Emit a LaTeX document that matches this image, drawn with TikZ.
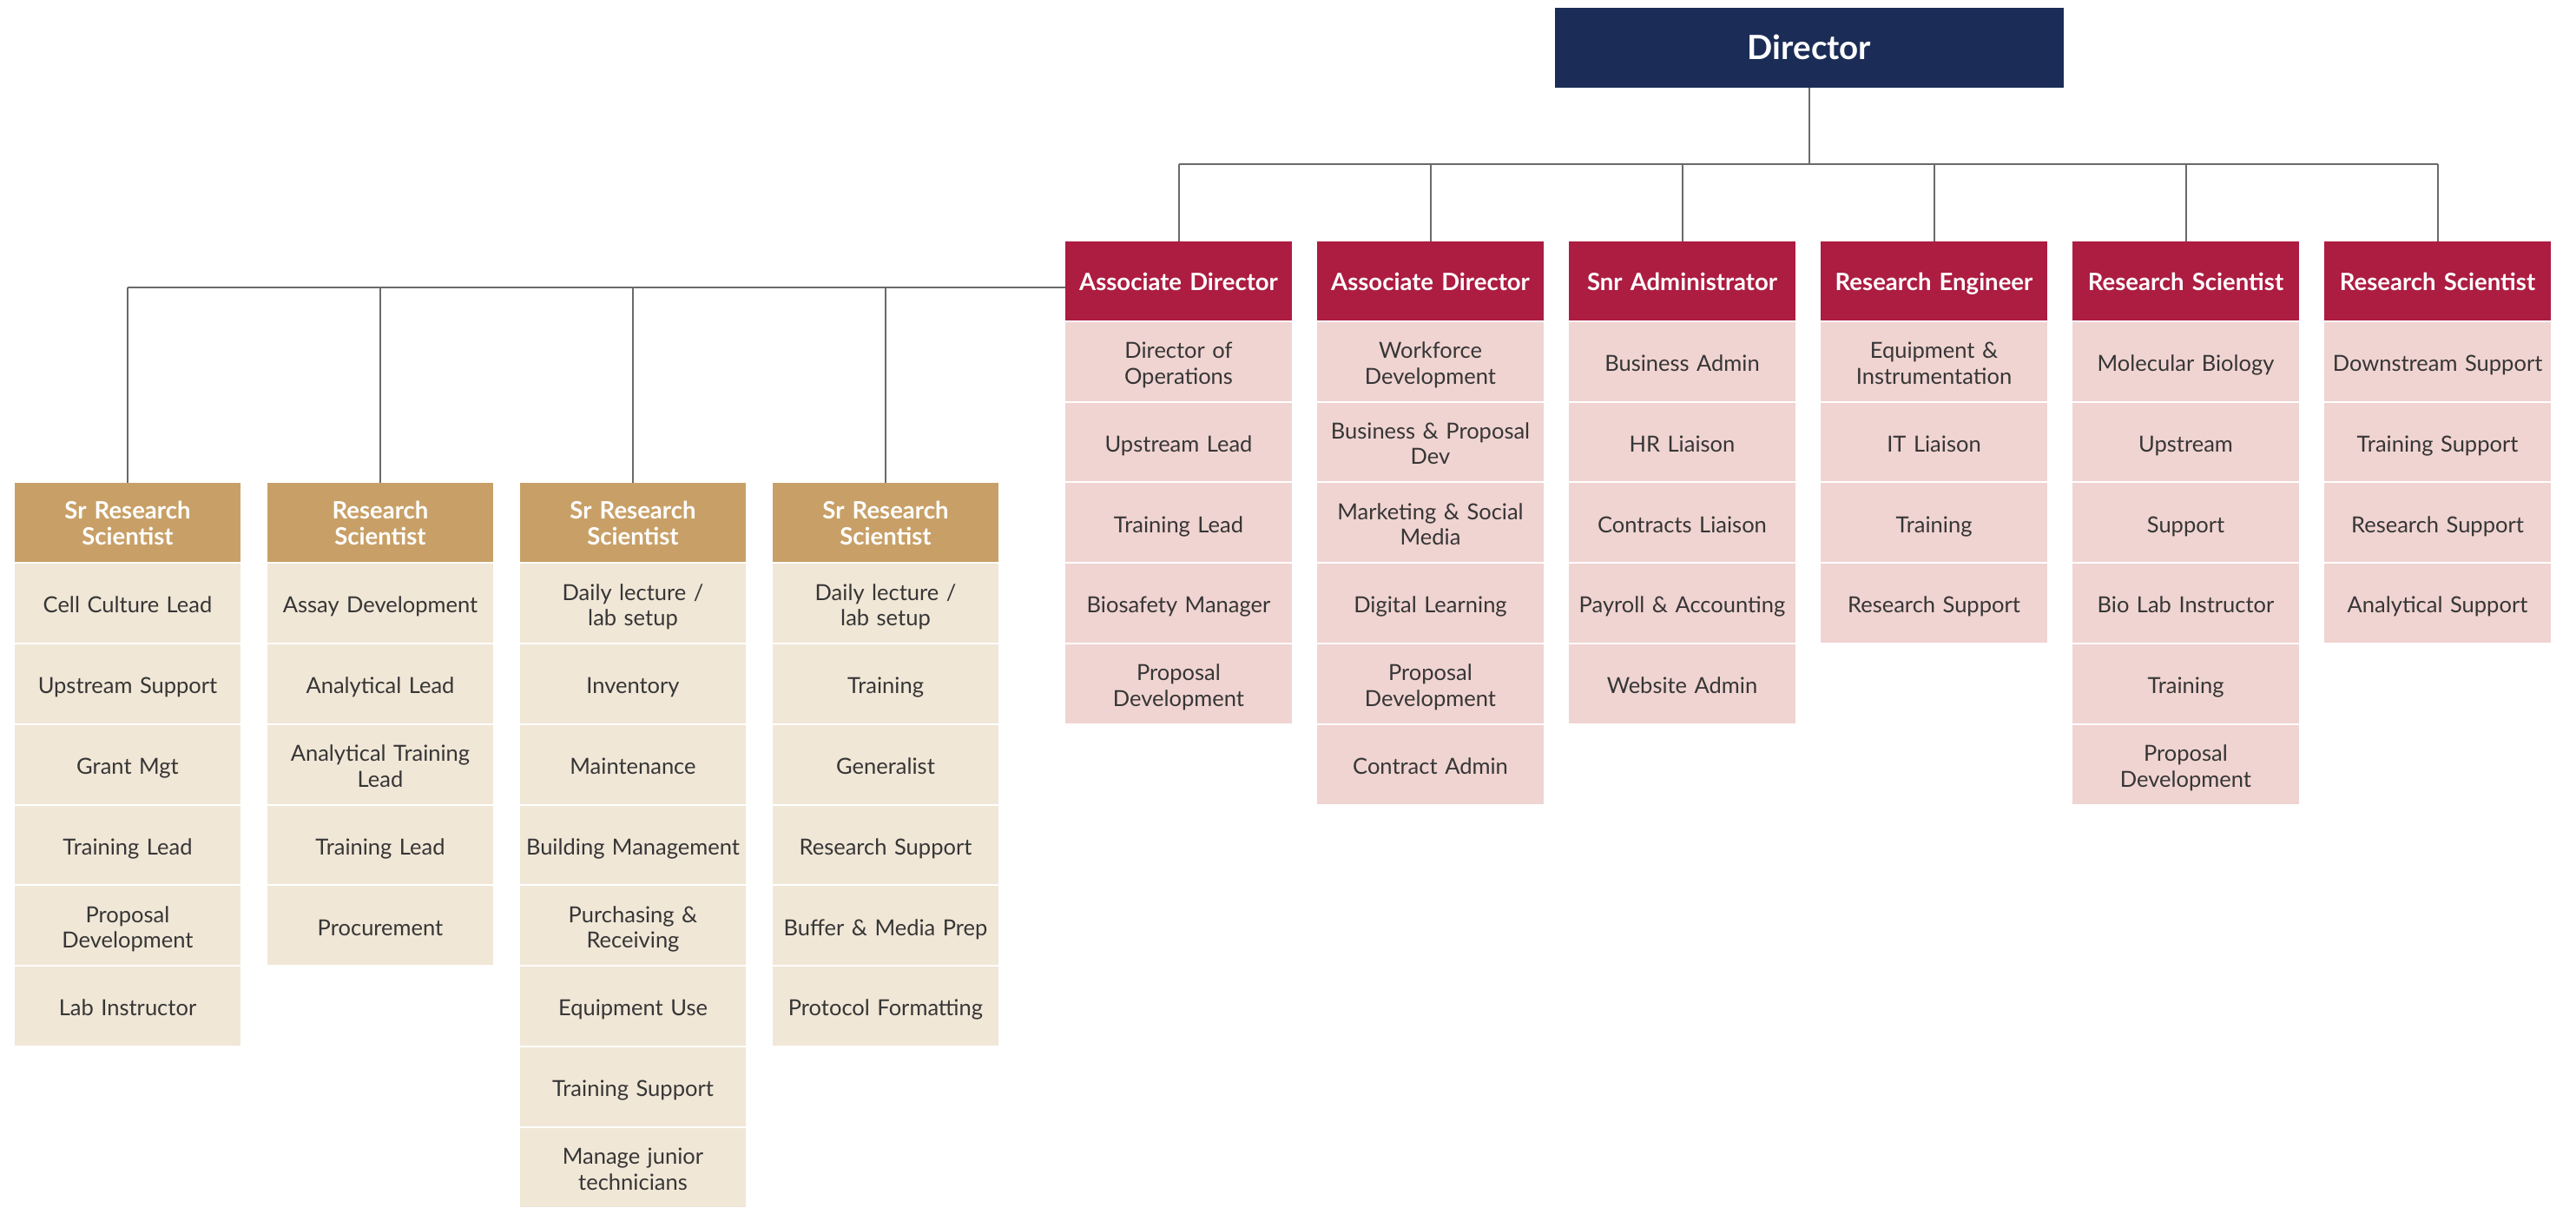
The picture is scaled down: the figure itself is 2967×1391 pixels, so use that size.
\documentclass[tikz,border=0pt]{standalone}
\usepackage{fontspec}
\setmainfont{Lato}
\definecolor{navy}{HTML}{1B2D57}
\definecolor{crimson}{HTML}{AD1C41}
\definecolor{pinkcell}{HTML}{F0D4D1}
\definecolor{tanhead}{HTML}{C8A067}
\definecolor{creamcell}{HTML}{F1E7D7}
\definecolor{celltext}{HTML}{363636}
\definecolor{connc}{HTML}{6A6A6A}
\tikzset{
  boxbase/.style={anchor=north west, inner sep=0pt, outer sep=0pt, align=center, minimum height=90.8pt},
  cellstrut/.style={text width=258pt, execute at begin node={\rule{0pt}{30.4pt}}, execute at end node={\rule[-8pt]{0pt}{0pt}}},
  headstrut/.style={text width=258pt, execute at begin node={\rule{0pt}{31pt}}, execute at end node={\rule[-9pt]{0pt}{0pt}}},
  dirbox/.style={boxbase, fill=navy, text=white, minimum width=586pt, minimum height=92pt,
     font=\fontsize{38.5}{46}\selectfont\bfseries,
     execute at begin node={\rule{0pt}{38pt}}, execute at end node={\rule[-11.4pt]{0pt}{0pt}}},
  rhead/.style={boxbase, headstrut, fill=crimson, text=white, minimum width=261pt, font=\fontsize{27.5}{30}\selectfont\bfseries},
  rcell/.style={boxbase, cellstrut, fill=pinkcell, text=celltext, minimum width=261pt, font=\fontsize{25.5}{29.5}\selectfont},
  lhead/.style={boxbase, headstrut, fill=tanhead, text=white, minimum width=260pt, font=\fontsize{27.5}{30}\selectfont\bfseries},
  lcell/.style={boxbase, cellstrut, fill=creamcell, text=celltext, minimum width=260pt, font=\fontsize{25.5}{29.5}\selectfont},
  conn/.style={draw=connc, line width=2pt}
}
\begin{document}
\begin{tikzpicture}[x=1pt, y=-1pt]
\useasboundingbox (0,0) rectangle (2967,1391);
\node[dirbox] (dir) at (1791,9) {Director};
% right group
\foreach \c/\hd/\items in {
 1/{Associate Director}/{{Director of\\Operations},{Upstream Lead},{Training Lead},{Biosafety Manager},{Proposal\\Development}},
 2/{Associate Director}/{{Workforce\\Development},{Business \& Proposal\\Dev},{Marketing \& Social\\Media},{Digital Learning},{Proposal\\Development},{Contract Admin}},
 3/{Snr Administrator}/{{Business Admin},{HR Liaison},{Contracts Liaison},{Payroll \& Accounting},{Website Admin}},
 4/{Research Engineer}/{{Equipment \&\\Instrumentation},{IT Liaison},{Training},{Research Support}},
 5/{Research Scientist}/{{Molecular Biology},{Upstream},{Support},{Bio Lab Instructor},{Training},{Proposal\\Development}},
 6/{Research Scientist}/{{Downstream Support},{Training Support},{Research Support},{Analytical Support}}}
{
  \node[rhead] (r\c) at ({1227+290*(\c-1)}, 278) {\hd};
  \foreach \t [count=\k] in \items {
    \node[rcell] (r\c-\k) at ({1227+290*(\c-1)}, {278+92.8*\k}) {\t};
  }
}
% left group
\foreach \c/\hd/\items in {
 1/{Sr Research\\Scientist}/{{Cell Culture Lead},{Upstream Support},{Grant Mgt},{Training Lead},{Proposal\\Development},{Lab Instructor}},
 2/{Research\\Scientist}/{{Assay Development},{Analytical Lead},{Analytical Training\\Lead},{Training Lead},{Procurement}},
 3/{Sr Research\\Scientist}/{{Daily lecture /\\lab setup},{Inventory},{Maintenance},{Building Management},{Purchasing \&\\Receiving},{Equipment Use},{Training Support},{Manage junior\\technicians}},
 4/{Sr Research\\Scientist}/{{Daily lecture /\\lab setup},{Training},{Generalist},{Research Support},{Buffer \& Media Prep},{Protocol Formatting}}}
{
  \node[lhead] (l\c) at ({17+291*(\c-1)}, 556.4) {\hd};
  \foreach \t [count=\k] in \items {
    \node[lcell] (l\c-\k) at ({17+291*(\c-1)}, {556.4+92.8*\k}) {\t};
  }
}
% connectors, top
\coordinate (busT) at (2082.5,189);
\draw[conn] (dir.south) -- (dir.south |- busT);
\draw[conn] (r1.north |- busT) -- (r6.north |- busT);
\foreach \c in {1,...,6} { \draw[conn] (r\c.north |- busT) -- (r\c.north); }
% connectors, left
\coordinate (busL) at (0,331);
\draw[conn] (l1.north |- busL) -- (r1.north west |- busL);
\foreach \c in {1,...,4} { \draw[conn] (l\c.north |- busL) -- (l\c.north); }
\end{tikzpicture}
\end{document}
